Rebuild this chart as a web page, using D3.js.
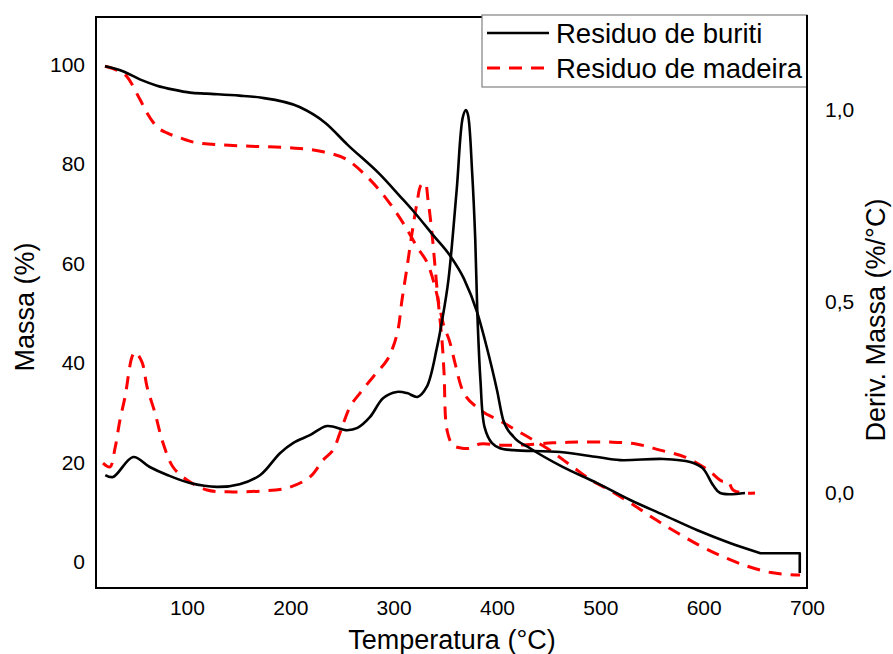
<!DOCTYPE html>
<html><head><meta charset="utf-8">
<script src="https://cdn.jsdelivr.net/npm/d3@7"></script>
<style>
body{margin:0;background:#fff}
svg{display:block}
text{font-family:"Liberation Sans",Arial,sans-serif}
</style>
</head><body>
<svg id="chart" width="893" height="654"></svg>
<script>
// ---- data ----
const xTicks = [100, 200, 300, 400, 500, 600, 700];
const massaTicks = [0, 20, 40, 60, 80, 100];
const derivTicks = [0.0, 0.5, 1.0];
const seriesNames = ["Residuo de buriti", "Residuo de madeira"];

// TG (Massa %) - buriti
const tgBuritiT = [20.7, 38, 55, 71, 87, 103, 119, 151, 171, 209, 234, 255, 287, 306, 319, 338, 355, 368, 381, 390, 400, 406, 416, 432, 464, 497, 529, 561, 594, 626, 655, 693, 693];
const tgBuritiM = [99.7, 98.7, 97.0, 95.8, 95.0, 94.4, 94.2, 93.8, 93.4, 91.5, 88.3, 84.0, 77.9, 73.6, 70.6, 65.8, 61.5, 57.0, 50.1, 43.3, 34.6, 28.6, 25.2, 22.9, 19.1, 15.9, 12.5, 9.5, 6.4, 3.8, 1.8, 1.8, -2.2];

// DTG (Deriv. Massa %/°C) - buriti
const dtgBuritiT = [21, 28.5, 48, 64, 81, 103, 129, 151, 171, 190, 203, 219, 235.5, 255, 265, 277, 290, 303, 313, 323, 332, 342, 347, 353, 361, 367, 370, 372, 376, 379, 381, 384, 388, 395, 403, 416, 461, 497, 519, 561, 587, 599, 609, 616, 640];
const dtgBuritiD = [0.047, 0.042, 0.094, 0.068, 0.047, 0.026, 0.016, 0.023, 0.047, 0.104, 0.131, 0.151, 0.175, 0.164, 0.170, 0.198, 0.248, 0.264, 0.261, 0.251, 0.277, 0.381, 0.452, 0.556, 0.791, 0.982, 1.0, 0.987, 0.836, 0.661, 0.470, 0.295, 0.172, 0.131, 0.117, 0.112, 0.107, 0.094, 0.086, 0.089, 0.081, 0.065, 0.021, 0.0, 0.0];

// TG (Massa %) - madeira
const tgMadeiraT = [20.7, 28.5, 42, 54.6, 61.4, 71, 80.7, 93.3, 109.7, 151.4, 199.7, 231.7, 254.9, 274.2, 291.7, 309.1, 322.6, 335.2, 342, 347.8, 354.6, 359.4, 366.2, 382.6, 403, 428.1, 448.4, 473.6, 491, 510.4, 533.6, 553.9, 575.2, 595.5, 619.7, 642, 665.2, 689.4, 693.3];
const tgMadeiraM = [99.7, 99.2, 97.6, 93.0, 90.3, 87.5, 86.3, 85.3, 84.3, 83.7, 83.3, 82.5, 80.9, 77.5, 73.4, 68.2, 63.4, 58.8, 53.7, 48.1, 44.1, 40.0, 34.8, 30.8, 28.4, 25.4, 22.9, 19.1, 16.5, 14.3, 11.3, 8.5, 5.8, 3.4, 1.0, -0.8, -2.1, -2.6, -2.6];

// DTG (Deriv. Massa %/°C) - madeira
const dtgMadeiraT = [18.8, 25.5, 30.4, 35.2, 40.1, 46.8, 49.7, 56.5, 61.4, 69.1, 76.8, 86.5, 100.1, 119.4, 144.6, 170.7, 196.8, 219.1, 231.7, 241.3, 248.1, 257.8, 267.5, 280.1, 293.6, 299.4, 304.2, 308.1, 313, 317.8, 322.6, 326.5, 330.4, 333.3, 337.1, 340.1, 343, 346.8, 348.8, 351.7, 357.5, 366.2, 373.9, 383.6, 403, 422.3, 454.2, 480.4, 509.4, 534.6, 557.8, 582, 604.2, 617.8, 623.6, 628.4, 640, 649.7];
const dtgMadeiraD = [0.078, 0.068, 0.117, 0.191, 0.251, 0.355, 0.368, 0.342, 0.277, 0.209, 0.131, 0.068, 0.034, 0.008, 0.003, 0.005, 0.013, 0.042, 0.086, 0.112, 0.157, 0.225, 0.261, 0.303, 0.347, 0.381, 0.426, 0.504, 0.590, 0.679, 0.757, 0.804, 0.809, 0.765, 0.679, 0.590, 0.504, 0.399, 0.313, 0.164, 0.125, 0.117, 0.117, 0.128, 0.125, 0.125, 0.131, 0.133, 0.133, 0.128, 0.112, 0.094, 0.060, 0.031, 0.031, 0.008, 0.0, 0.0];

// ---- drawing ----
const svg = d3.select("#chart");
const L = 96, R = 807, T = 17, B = 588;

const x = d3.scaleLinear().domain([12, 700]).range([L, R]);
const yL = d3.scaleLinear().domain([-5.2, 109.6]).range([B, T]);
const yR = d3.scaleLinear().domain([-0.248, 1.243]).range([B, T]);

const curve = d3.curveCatmullRom.alpha(0.5);
const lineL = d3.line().x(d => x(d[0])).y(d => yL(d[1])).curve(curve);
const lineLmono = d3.line().x(d => x(d[0])).y(d => yL(d[1])).curve(d3.curveMonotoneX);
const lineLlin = d3.line().x(d => x(d[0])).y(d => yL(d[1]));
const lineR = d3.line().x(d => x(d[0])).y(d => yR(d[1])).curve(curve);

const zip = (a, b) => a.map((v, i) => [v, b[i]]);

const solid = {stroke: "#000", width: 2.6, dash: null};
const dashed = {stroke: "#ff0000", width: 3, dash: "13,9"};

function pathD(d, st) {
  svg.append("path")
    .attr("d", d)
    .attr("fill", "none")
    .attr("stroke", st.stroke)
    .attr("stroke-width", st.width)
    .attr("stroke-dasharray", st.dash)
    .attr("stroke-linejoin", "round");
}

const tgMad = zip(tgMadeiraT, tgMadeiraM);
const tgBur = zip(tgBuritiT, tgBuritiM);

pathD(lineLmono(tgMad.slice(0, -1)) + lineLlin(tgMad.slice(-2)).replace("M", "L"), dashed);
pathD(lineR(zip(dtgMadeiraT, dtgMadeiraD)), dashed);
// buriti TG: smooth body, then straight flat + vertical end
pathD(lineLmono(tgBur.slice(0, -2)) + lineLlin(tgBur.slice(-3)).replace("M", "L"), solid);
pathD(lineR(zip(dtgBuritiT, dtgBuritiD)), solid);

// frame
svg.append("rect").attr("x", L).attr("y", T).attr("width", R - L).attr("height", B - T)
  .attr("fill", "none").attr("stroke", "#000").attr("stroke-width", 2);

// axes
function styleAxis(g) {
  g.select(".domain").remove();
  g.selectAll("text").attr("font-size", 21).attr("fill", "#000")
    .attr("font-family", "'Liberation Sans', Arial, sans-serif");
}
svg.append("g").attr("transform", `translate(0,${B})`)
  .call(d3.axisBottom(x).tickValues(xTicks).tickSize(0).tickPadding(12))
  .call(styleAxis);
svg.append("g").attr("transform", `translate(${L},0)`)
  .call(d3.axisLeft(yL).tickValues(massaTicks).tickSize(0).tickPadding(11))
  .call(styleAxis);
svg.append("g").attr("transform", `translate(${R},0)`)
  .call(d3.axisRight(yR).tickValues(derivTicks).tickSize(0).tickPadding(18)
    .tickFormat(d => d3.format(".1f")(d).replace(".", ",")))
  .call(styleAxis);

// titles
svg.append("text").attr("x", 452).attr("y", 649).attr("text-anchor", "middle")
  .attr("font-size", 27).text("Temperatura (°C)");
svg.append("text").attr("transform", "translate(34,307) rotate(-90)").attr("text-anchor", "middle")
  .attr("font-size", 27).text("Massa (%)");
svg.append("text").attr("transform", "translate(885,320) rotate(-90)").attr("text-anchor", "middle")
  .attr("font-size", 27).text("Deriv. Massa (%/°C)");

// legend
const lg = svg.append("g");
lg.append("rect").attr("x", 482).attr("y", 15).attr("width", R - 482).attr("height", 72)
  .attr("fill", "#fff").attr("stroke", "#808080").attr("stroke-width", 1.2);
svg.append("line").attr("x1", R).attr("x2", R).attr("y1", 15).attr("y2", 88).attr("stroke", "#000").attr("stroke-width", 2);
const styles = [solid, dashed];
seriesNames.forEach((name, i) => {
  const yy = 33 + i * 35;
  lg.append("line").attr("x1", 487).attr("x2", 549).attr("y1", yy).attr("y2", yy)
    .attr("stroke", styles[i].stroke).attr("stroke-width", styles[i].width)
    .attr("stroke-dasharray", styles[i].dash);
  lg.append("text").attr("x", 556).attr("y", yy + 10).attr("font-size", 27.5).attr("fill", "#000").text(name);
});
</script>
</body></html>
